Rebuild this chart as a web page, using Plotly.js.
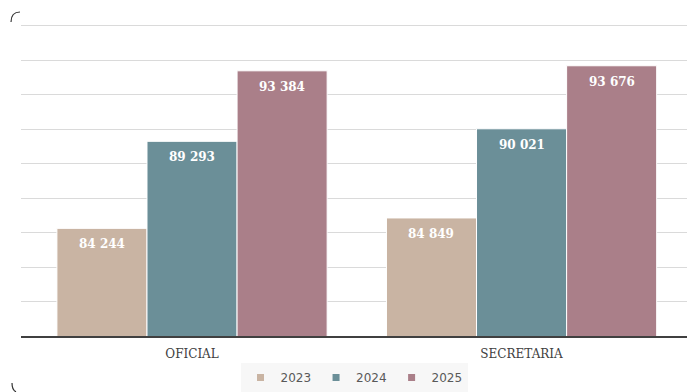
<!DOCTYPE html>
<html>
<head>
<meta charset="utf-8">
<script src="https://cdn.plot.ly/plotly-3.0.1.min.js"></script>
<style>
html,body{margin:0;padding:0;background:#fff;}
#chart{width:689px;height:392px;}
</style>
</head>
<body>
<div id="chart"></div>
<script>
const categories = ["OFICIAL", "SECRETARIA"];
const seriesNames = ["2023", "2024", "2025"];
const values2023 = [84244, 84849];
const values2024 = [89293, 90021];
const values2025 = [93384, 93676];
const colors = ["#C9B4A3", "#6B8F98", "#AA7F89"];

const allValues = [values2023, values2024, values2025];
const fmt = v => String(v).replace(/\B(?=(\d{3})+(?!\d))/g, " ");

const margin = {l: 21, r: 2, t: 24, b: 56};
const xRange = [-0.519, 1.502];
const bargap = 0.18;
const plotW = 689 - margin.l - margin.r;
const pxPerUnit = plotW / (xRange[1] - xRange[0]);
const barUnits = (1 - bargap) / seriesNames.length;

const traces = [];
allValues.forEach((vals, i) => {
  traces.push({
    type: "bar",
    name: seriesNames[i],
    x: categories,
    y: vals,
    marker: {color: colors[i], line: {color: "#FFFFFF", width: 1}},
    showlegend: false,
    hoverinfo: "none"
  });
});
allValues.forEach((vals, i) => {
  traces.push({
    type: "scatter",
    mode: "markers",
    name: seriesNames[i],
    x: [null], y: [null],
    marker: {symbol: "square", size: 7, color: colors[i]},
    showlegend: true,
    hoverinfo: "none"
  });
});

const annotations = [];
allValues.forEach((vals, i) => {
  vals.forEach((v, j) => {
    annotations.push({
      x: categories[j], y: v, xref: "x", yref: "y",
      text: "<b>" + fmt(v) + "</b>",
      showarrow: false,
      yanchor: "top", xanchor: "center",
      yshift: -7,
      xshift: (i - 1) * barUnits * pxPerUnit,
      font: {family: "DejaVu Serif", size: 12, color: "#FFFFFF"}
    });
  });
});

const layout = {
  width: 689, height: 392,
  margin: margin,
  paper_bgcolor: "#FFFFFF",
  plot_bgcolor: "#FFFFFF",
  barmode: "group",
  bargap: bargap,
  bargroupgap: 0,
  showlegend: true,
  legend: {
    orientation: "h",
    xref: "paper", yref: "container",
    x: 0.5, xanchor: "center",
    y: 0.074, yanchor: "top",
    bgcolor: "#F7F7F7",
    font: {family: "DejaVu Sans", size: 12, color: "#595959"},
    itemwidth: 30,
    tracegroupgap: 0
  },
  xaxis: {
    type: "category",
    range: xRange,
    showgrid: false,
    showline: true,
    linecolor: "#404040",
    linewidth: 2,
    ticks: "",
    ticklabelstandoff: 6,
    tickfont: {family: "DejaVu Serif", size: 12, color: "#404040"},
    fixedrange: true,
    automargin: false
  },
  yaxis: {
    range: [78000, 96100],
    dtick: 2000,
    tick0: 78000,
    showticklabels: false,
    showgrid: true,
    gridcolor: "#DADADA",
    gridwidth: 1,
    zeroline: false,
    showline: false,
    ticks: "",
    fixedrange: true,
    automargin: false
  },
  annotations: annotations,
  shapes: [
    {type: "path", xref: "paper", yref: "paper",
     path: "M -0.0150,1.0064 Q -0.0150,1.0385 -0.0015,1.0385",
     line: {color: "#333333", width: 1.2}},
    {type: "path", xref: "paper", yref: "paper",
     path: "M -0.0135,-0.1506 Q -0.0135,-0.173 -0.0075,-0.179",
     line: {color: "#333333", width: 1.2}}
  ]
};

Plotly.newPlot("chart", traces, layout, {displayModeBar: false, staticPlot: true});
</script>
</body>
</html>
